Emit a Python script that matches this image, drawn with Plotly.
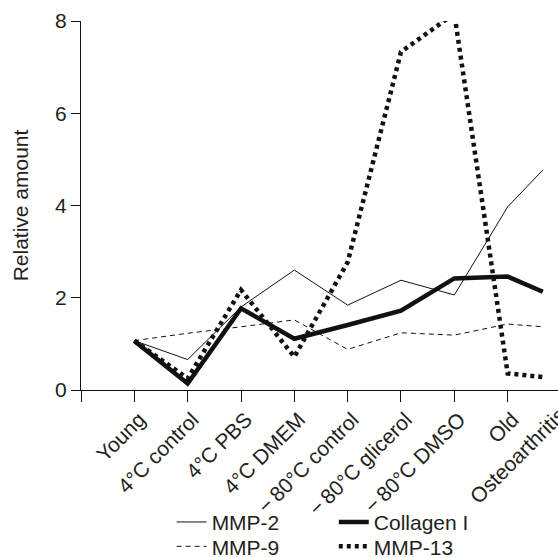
import plotly.graph_objects as go

categories = ["Young", "4°C control", "4°C PBS", "4°C DMEM", "\u2212\u200980°C control",
              "\u2212\u200980°C glicerol", "\u2212\u200980°C DMSO", "Old", "Osteoarthritis"]
x_pos = [1, 2, 3, 4, 5, 6, 7, 8, 8.66]
mmp2 = [1.07, 0.66, 1.80, 2.60, 1.84, 2.38, 2.06, 3.97, 4.77]
collagen1 = [1.06, 0.14, 1.77, 1.11, 1.41, 1.72, 2.42, 2.46, 2.13]
mmp9 = [1.07, 1.23, 1.37, 1.52, 0.88, 1.24, 1.19, 1.43, 1.37]
mmp13 = [1.07, 0.25, 2.17, 0.72, 2.77, 7.33, 8.16, 0.36, 0.28]
y_ticks = [0, 2, 4, 6, 8]

FONT = "Liberation Sans, Arial, Helvetica, sans-serif"
TXT = "#231f20"
fs = 21

fig = go.Figure()
fig.add_trace(go.Scatter(x=x_pos, y=mmp2, mode="lines", name="MMP-2", legend="legend",
                         line=dict(color="#111", width=1)))
fig.add_trace(go.Scatter(x=x_pos, y=mmp9, mode="lines", name="MMP-9", legend="legend3",
                         line=dict(color="#111", width=1, dash="5px,4px")))
fig.add_trace(go.Scatter(x=x_pos, y=collagen1, mode="lines", name="Collagen I", legend="legend2",
                         line=dict(color="#111", width=4.5)))
fig.add_trace(go.Scatter(x=x_pos, y=mmp13, mode="lines", name="MMP-13", legend="legend4",
                         line=dict(color="#111", width=4.5, dash="4px,4px")))

fig.add_annotation(x=8.9, y=0, xref="x", yref="y", text=categories[8], showarrow=False,
                   textangle=-45, xanchor="right", yanchor="top", yshift=-10, xshift=17,
                   font=dict(family=FONT, size=fs, color=TXT))

leg_common = dict(orientation="v", xanchor="left", yanchor="top", traceorder="normal",
                  font=dict(family=FONT, size=fs, color=TXT), bgcolor="rgba(0,0,0,0)",
                  itemwidth=30, tracegroupgap=0)

fig.update_layout(
    width=558, height=558,
    margin=dict(l=81, r=0, t=21, b=168, autoexpand=False),
    plot_bgcolor="white", paper_bgcolor="white",
    font=dict(family=FONT, size=fs, color=TXT),
    showlegend=True,
    legend=dict(x=0.19, y=-0.303, **leg_common),
    legend2=dict(x=0.53, y=-0.303, **leg_common),
    legend3=dict(x=0.19, y=-0.369, **leg_common),
    legend4=dict(x=0.53, y=-0.369, **leg_common),
    xaxis=dict(range=[0, 8.944], tickvals=[0] + x_pos[:8], ticktext=[""] + categories[:8],
               tickangle=-45, ticks="outside", ticklen=11, tickwidth=1, tickcolor="#111",
               showline=True, linecolor="#111", linewidth=1, showgrid=False, zeroline=False,
               automargin=False, ticklabelshift=5, ticklabelstandoff=-3,
               tickfont=dict(family=FONT, size=fs, color=TXT)),
    yaxis=dict(range=[0, 8], tickvals=y_ticks, ticks="outside", ticklen=9, tickwidth=1,
               tickcolor="#111", showline=True, linecolor="#111", linewidth=1,
               showgrid=False, zeroline=False, automargin=False,
               title=dict(text="Relative amount", font=dict(family=FONT, size=fs, color=TXT),
                          standoff=20),
               tickfont=dict(family=FONT, size=fs, color=TXT)),
)

fig.write_html("out.html")
